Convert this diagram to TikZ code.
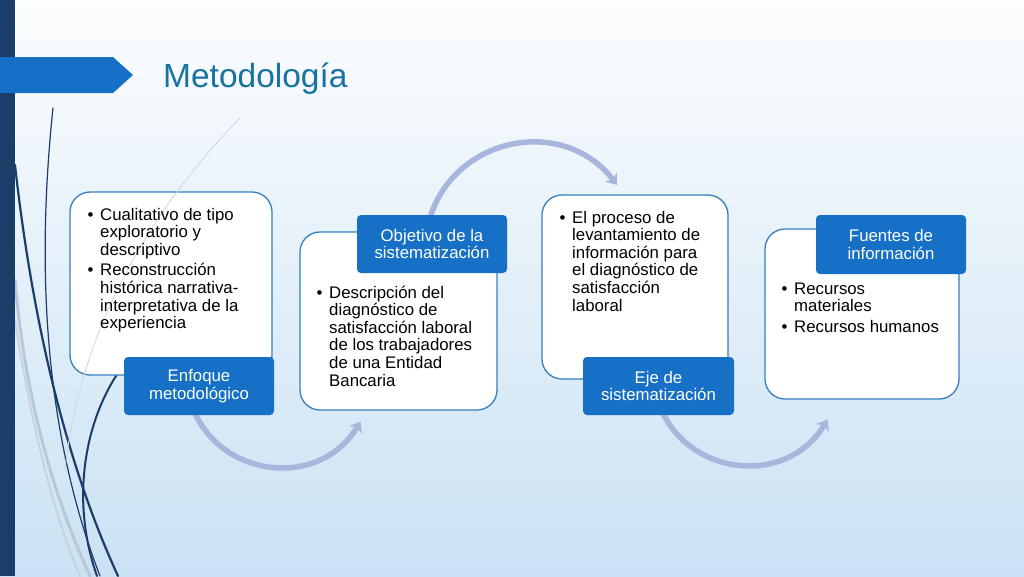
\documentclass[tikz,border=0pt]{standalone}
\usepackage{fontspec}
\setmainfont{Liberation Sans}
\usetikzlibrary{arrows.meta}
\definecolor{navy}{RGB}{27,61,104}
\definecolor{banner}{RGB}{22,112,197}
\definecolor{titlec}{RGB}{24,115,160}
\definecolor{lab}{RGB}{22,112,197}
\definecolor{bord}{RGB}{52,128,192}
\definecolor{arrc}{RGB}{168,181,220}
\definecolor{bgtop}{RGB}{252,253,254}
\definecolor{bgmid}{RGB}{232,242,250}
\definecolor{bgbot}{RGB}{202,226,244}
\definecolor{deco}{RGB}{185,200,214}
\definecolor{decofaint}{RGB}{205,214,224}
\newcommand\bul{\makebox[13pt][l]{\hspace{0.5pt}•}}
\tikzset{
  boxshape/.style={draw=bord, line width=1.3pt, fill=white, rounded corners=20pt, inner sep=0pt},
  labshape/.style={fill=lab, rounded corners=4pt, text=white, align=center, inner sep=0pt,
    font=\fontsize{16.8}{17.6}\selectfont, minimum width=150pt, minimum height=58pt},
  bodytext/.style={inner sep=0pt, anchor=north west, font=\fontsize{16.8}{17.6}\selectfont},
  arcarrow/.style={draw=arrc, line width=5.5pt, -{Stealth[length=10pt,width=15pt,inset=3pt]}},
  decoline/.style={line cap=round}
}
\begin{document}
\begin{tikzpicture}[x=1pt,y=-1pt]
\useasboundingbox (0,0) rectangle (1024,576);
% background
\shade[top color=bgtop, middle color=bgmid, bottom color=bgbot] (0,0) rectangle (1024,576);
% decorative curves
\draw[decoline, draw=deco, line width=3pt] (15,280) .. controls (25,400) and (55,500) .. (90,576);
\draw[decoline, draw=deco!80!white, line width=2pt] (15,320) .. controls (30,420) and (55,520) .. (80,576);
\draw[decoline, draw=navy, line width=1.2pt] (53,108) .. controls (38,250) and (40,420) .. (100,576);
\draw[decoline, draw=navy, line width=2.2pt] (15,165) .. controls (30,300) and (60,450) .. (118,576);
\draw[decoline, draw=navy, line width=2pt] (120,370) .. controls (85,420) and (70,500) .. (97,576);
% left bar and banner
\fill[navy] (0,0) rectangle (15,576);
\fill[banner] (0,57) -- (113,57) -- (133,75) -- (113,93) -- (0,93) -- cycle;
\node[anchor=base west, text=titlec, inner sep=0pt, font=\fontsize{33.5}{40}\selectfont] (title) at (163,87) {Metodología};
% arrow coordinates
\coordinate (a1s) at (189.2,397.3);
\coordinate (a1e) at (360.6,421.4);
\coordinate (a2s) at (428.6,222.3);
\coordinate (a2e) at (617,185);
\coordinate (a3s) at (656.2,395.3);
\coordinate (a3e) at (827.6,419.4);
\draw[arcarrow] (a1s) .. controls (210.7,477.4) and (317.9,492.4) .. (a1e);
\draw[arcarrow] (a2s) .. controls (451.6,136.5) and (563.1,114.5) .. (a2e);
\draw[arcarrow] (a3s) .. controls (677.7,475.4) and (784.9,490.4) .. (a3e);
% boxes
\node[boxshape, minimum width=202pt, minimum height=183pt] (b1) at (171,283.5) {};
\node[boxshape, minimum width=197pt, minimum height=178pt] (b2) at (398.5,321) {};
\node[boxshape, minimum width=186pt, minimum height=184pt] (b3) at (635,287) {};
\node[boxshape, minimum width=194pt, minimum height=170pt] (b4) at (862,314) {};
% faint diagonal
\draw[draw=decofaint, line width=0.8pt] (240,118) .. controls (150,210) and (80,330) .. (65,470);
% labels
\node[labshape] (l1) at (199,386) {Enfoque\\metodológico};
\node[labshape] (l2) at (432,244) {Objetivo de la\\sistematización};
\node[labshape, minimum width=151pt] (l3) at (658.5,386) {Eje de\\sistematización};
\node[labshape, minimum height=59pt] (l4) at (891,244.5) {Fuentes de\\información};
% body texts
\node[bodytext] (t1) at (87,207.5) {\begin{tabular}{@{}l@{}l@{}}
\bul & Cualitativo de tipo\\
 & exploratorio y\\
 & descriptivo\\[3pt]
\bul & Reconstrucción\\
 & histórica narrativa-\\
 & interpretativa de la\\
 & experiencia
\end{tabular}};
\node[bodytext] (t2) at (316,285.5) {\begin{tabular}{@{}l@{}l@{}}
\bul & Descripción del\\
 & diagnóstico de\\
 & satisfacción laboral\\
 & de los trabajadores\\
 & de una Entidad\\
 & Bancaria
\end{tabular}};
\node[bodytext] (t3) at (559,210.5) {\begin{tabular}{@{}l@{}l@{}}
\bul & El proceso de\\
 & levantamiento de\\
 & información para\\
 & el diagnóstico de\\
 & satisfacción\\
 & laboral
\end{tabular}};
\node[bodytext] (t4) at (781,281.5) {\begin{tabular}{@{}l@{}l@{}}
\bul & Recursos\\
 & materiales\\[3pt]
\bul & Recursos humanos
\end{tabular}};
\end{tikzpicture}
\end{document}
